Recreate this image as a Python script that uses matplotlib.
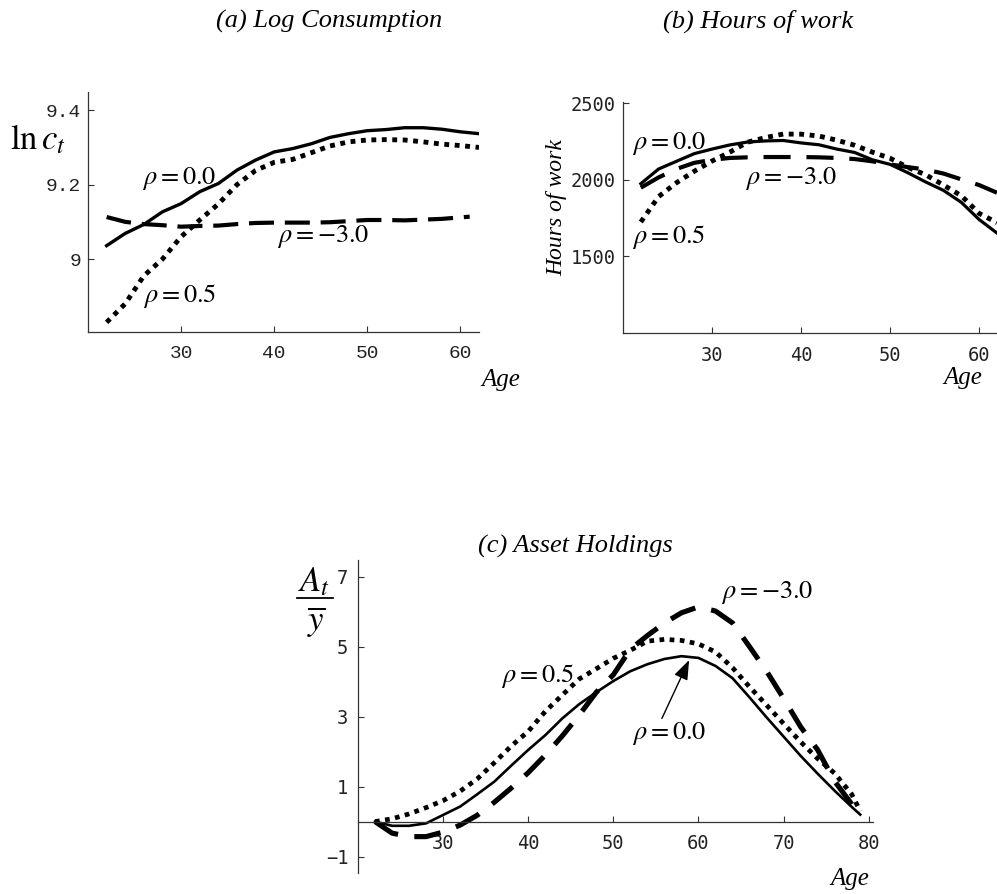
import numpy as np
import matplotlib.pyplot as plt
from matplotlib.lines import Line2D

plt.rcParams['mathtext.fontset'] = 'stix'

# ages
age_ab = [22, 24, 26, 28, 30, 32, 34, 36, 38, 40, 42, 44, 46, 48, 50, 52, 54, 56, 58, 60, 62]
age_a_dash = [22, 24, 26, 28, 30, 32, 34, 36, 38, 40, 42, 44, 46, 48, 50, 52, 54, 56, 58, 60, 61]
age_c = [22, 24, 26, 28, 30, 32, 34, 36, 38, 40, 42, 44, 46, 48, 50, 52, 54, 56, 58, 60,
         62, 64, 66, 68, 70, 72, 74, 76, 78, 79]

# (a) log consumption
cons_rho00 = [9.036, 9.069, 9.093, 9.127, 9.149, 9.181, 9.203, 9.239, 9.266, 9.288, 9.297,
              9.310, 9.327, 9.337, 9.345, 9.348, 9.353, 9.353, 9.349, 9.342, 9.337]
cons_rho05 = [8.830, 8.880, 8.955, 9.000, 9.060, 9.105, 9.148, 9.200, 9.238, 9.260, 9.268,
              9.286, 9.304, 9.315, 9.320, 9.321, 9.320, 9.315, 9.309, 9.305, 9.300]
cons_rhom3 = [9.113, 9.100, 9.094, 9.091, 9.087, 9.089, 9.090, 9.094, 9.097, 9.098, 9.098,
              9.098, 9.099, 9.102, 9.105, 9.105, 9.104, 9.106, 9.108, 9.112, 9.114]

# (b) hours of work
hours_rho00 = [1974, 2070, 2120, 2170, 2200, 2227, 2246, 2253, 2256, 2240, 2228,
               2200, 2178, 2130, 2100, 2045, 1985, 1930, 1852, 1740, 1652]
hours_rho05 = [1724, 1890, 1980, 2055, 2122, 2180, 2245, 2275, 2298, 2297, 2285,
               2258, 2225, 2180, 2140, 2080, 2032, 1965, 1895, 1780, 1720]
hours_rhom3 = [1948, 2015, 2070, 2110, 2130, 2142, 2146, 2148, 2148, 2148, 2146,
               2142, 2135, 2120, 2100, 2082, 2066, 2040, 2002, 1965, 1915]

# (c) assets over mean income
assets_rho00 = [0.0, -0.12, -0.12, -0.05, 0.19, 0.43, 0.78, 1.14, 1.60, 2.05, 2.47, 2.95, 3.36,
                3.70, 4.02, 4.30, 4.50, 4.65, 4.73, 4.68, 4.45, 4.10, 3.55, 2.98, 2.43,
                1.88, 1.37, 0.88, 0.42, 0.20]
assets_rho05 = [0.0, 0.08, 0.22, 0.40, 0.60, 0.87, 1.22, 1.68, 2.16, 2.58, 3.15, 3.62, 4.08,
                4.37, 4.67, 4.90, 5.16, 5.21, 5.18, 5.08, 4.85, 4.40, 3.85, 3.33, 2.80,
                2.28, 1.80, 1.38, 0.78, 0.30]
assets_rhom3 = [0.0, -0.33, -0.43, -0.43, -0.30, -0.10, 0.18, 0.55, 0.96, 1.40, 1.90, 2.45,
                3.05, 3.70, 4.20, 4.93, 5.32, 5.68, 5.97, 6.14, 6.02, 5.68, 5.00, 4.30,
                3.52, 2.71, 2.05, 1.15, 0.50, 0.14]

W, H = 997, 894
fig = plt.figure(figsize=(W / 100, H / 100), dpi=100)


def add_ax(l, t, r, b):
    return fig.add_axes([l / W, 1 - b / H, (r - l) / W, (b - t) / H])


def style_ax(ax, tickfont, size):
    for s in ['top', 'right']:
        ax.spines[s].set_visible(False)
    for s in ['left', 'bottom']:
        ax.spines[s].set_linewidth(0.9)
        ax.spines[s].set_color('#333333')
    ax.tick_params(direction='in', length=4, width=0.8, color='#333333')
    for lab in ax.get_xticklabels() + ax.get_yticklabels():
        lab.set_fontfamily(tickfont)
        lab.set_fontsize(size)
        lab.set_color('#222222')


serif_it = dict(family='Liberation Serif', style='italic')
dot = (0, (1, 1.15))

# (a) Log consumption
ax1 = add_ax(88, 92, 479, 332)
ax1.plot(age_ab, cons_rho00, color='black', lw=2.4)
ax1.plot(age_ab, cons_rho05, color='black', lw=3.5, linestyle=dot, dash_capstyle='butt')
ax1.plot(age_a_dash, cons_rhom3, color='black', lw=3.0, linestyle=(0, (6, 2.6)), dash_capstyle='butt')
ax1.set_xlim(20, 62)
ax1.set_ylim(8.804, 9.449)
ax1.set_xticks([30, 40, 50, 60])
ax1.set_yticks([9.0, 9.2, 9.4])
ax1.set_yticklabels(['9', '9.2', '9.4'])
ax1.tick_params(axis='y', pad=5)
ax1.tick_params(axis='x', pad=9)
style_ax(ax1, 'Liberation Mono', 14)
ax1.text(29.8, 9.217, r'$\rho = 0.0$', fontsize=19, ha='center', va='center')
ax1.text(45.3, 9.06, r'$\rho = -3.0$', fontsize=19, ha='center', va='center')
ax1.text(29.8, 8.90, r'$\rho = 0.5$', fontsize=19, ha='center', va='center')

# (b) Hours of work
ax2 = add_ax(623, 102, 997, 333)
ax2.plot(age_ab, hours_rho00, color='black', lw=2.3)
ax2.plot(age_ab, hours_rho05, color='black', lw=3.5, linestyle=dot, dash_capstyle='butt')
ax2.plot(age_ab, hours_rhom3, color='black', lw=3.0, linestyle=(0, (6.5, 3.8)), dash_capstyle='butt')
ax2.set_xlim(20, 62)
ax2.set_ylim(1000, 2507)
ax2.set_xticks([30, 40, 50, 60])
ax2.set_yticks([1500, 2000, 2500])
ax2.tick_params(axis='y', pad=5)
ax2.tick_params(axis='x', pad=9)
style_ax(ax2, 'DejaVu Sans Mono', 13.5)
ax2.text(25.2, 2235, r'$\rho = 0.0$', fontsize=19, ha='center', va='center')
ax2.text(38.9, 2011, r'$\rho = -3.0$', fontsize=19, ha='center', va='center')
ax2.text(25.1, 1626, r'$\rho = 0.5$', fontsize=19, ha='center', va='center')
fig.text(557 / W, 1 - 208 / H, 'Hours of work', rotation=90, fontsize=17,
         ha='center', va='center', **serif_it)

# (c) Asset holdings
ax3 = add_ax(358, 560, 873, 873)
ax3.plot(age_c, assets_rho00, color='black', lw=1.9)
ax3.plot(age_c, assets_rho05, color='black', lw=3.4, linestyle=dot, dash_capstyle='butt')
ax3.plot(age_c, assets_rhom3, color='black', lw=3.7, linestyle=(0, (5.2, 3.2)), dash_capstyle='butt')
ax3.set_xlim(20, 80.5)
ax3.set_ylim(-1.47, 7.48)
ax3.spines['bottom'].set_position(('data', 0))
ax3.set_xticks([30, 40, 50, 60, 70, 80])
ax3.set_yticks([-1, 1, 3, 5, 7])
ax3.tick_params(axis='y', pad=7)
ax3.tick_params(axis='x', pad=9)
style_ax(ax3, 'DejaVu Sans Mono', 13.5)
ax3.text(41.1, 4.15, r'$\rho = 0.5$', fontsize=19, ha='center', va='center')
ax3.text(68.1, 6.54, r'$\rho = -3.0$', fontsize=19, ha='center', va='center')
ax3.text(56.6, 2.53, r'$\rho = 0.0$', fontsize=19, ha='center', va='center')
ax3.annotate('', xy=(58.9, 4.62), xytext=(55.7, 2.95),
             arrowprops=dict(arrowstyle='-|>,head_length=0.6,head_width=0.22',
                             lw=1, color='black', shrinkA=0, shrinkB=0,
                             mutation_scale=20))

# titles and axis labels
fig.text(329 / W, 1 - 21 / H, '(a) Log Consumption', fontsize=19, ha='center', va='center', **serif_it)
fig.text(758 / W, 1 - 21 / H, '(b) Hours of work', fontsize=19, ha='center', va='center', **serif_it)
fig.text(575 / W, 1 - 546 / H, '(c) Asset Holdings', fontsize=19, ha='center', va='center', **serif_it)
fig.text(501 / W, 1 - 380 / H, 'Age', fontsize=18, ha='center', va='center', **serif_it)
fig.text(963 / W, 1 - 378 / H, 'Age', fontsize=18, ha='center', va='center', **serif_it)
fig.text(850 / W, 1 - 879 / H, 'Age', fontsize=18, ha='center', va='center', **serif_it)
fig.text(38 / W, 1 - 139 / H, r'$\ln c_t$', fontsize=25, ha='center', va='center')

# A_t over y-bar, drawn as a stacked fraction
fig.text(314 / W, 1 - 581 / H, r'$A_t$', fontsize=25, ha='center', va='center')
fig.add_artist(Line2D([297 / W, 333 / W], [1 - 598 / H, 1 - 598 / H],
                      color='black', lw=1.3, transform=fig.transFigure))
fig.text(316 / W, 1 - 622 / H, r'$\overline{y}$', fontsize=25, ha='center', va='center')

fig.savefig('out.png', dpi=100)
